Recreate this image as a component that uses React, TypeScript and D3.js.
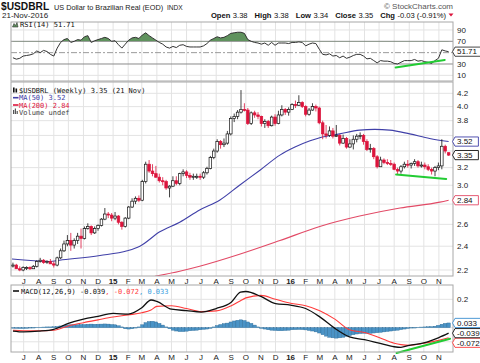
import React from "react";
import * as d3 from "d3";

const FONT = "'Liberation Sans', Arial, sans-serif";
const MONO = "'DejaVu Sans Mono', monospace";

const weekStart = new Date(2014, 5, 9);
const weekEnd = new Date(2016, 10, 21);

const opens = [
  2.24, 2.24, 2.21, 2.2, 2.22, 2.22, 2.21, 2.23, 2.27, 2.28, 2.26, 2.27, 2.25,
  2.24, 2.3, 2.36, 2.42, 2.45, 2.41, 2.45, 2.49, 2.47, 2.56, 2.58, 2.52, 2.56,
  2.59, 2.65, 2.7, 2.69, 2.66, 2.68, 2.62, 2.58, 2.66, 2.77, 2.83, 2.86, 2.84,
  3.04, 3.24, 3.16, 3.13, 3.09, 3.05, 3.04, 2.97, 2.99, 3.05, 3.02, 3.13, 3.15,
  3.11, 3.09, 3.1, 3.1, 3.09, 3.14, 3.19, 3.32, 3.4, 3.52, 3.48, 3.5, 3.62,
  3.83, 3.86, 3.92, 3.96, 3.95, 3.76, 3.91, 3.88, 3.86, 3.76, 3.79, 3.73, 3.85,
  3.76, 3.88, 3.96, 3.92, 3.96, 4.03, 4.02, 4.06, 4.0, 3.89, 3.95, 4.0, 3.98,
  3.77, 3.62, 3.6, 3.66, 3.59, 3.6, 3.5, 3.56, 3.45, 3.49, 3.55, 3.59, 3.6,
  3.52, 3.42, 3.43, 3.33, 3.21, 3.29, 3.26, 3.25, 3.24, 3.18, 3.16, 3.21, 3.24,
  3.23, 3.25, 3.27, 3.22, 3.23, 3.21, 3.18, 3.16, 3.2, 3.22, 3.46, 3.38,
];
const highs = [
  2.26, 2.25, 2.23, 2.23, 2.23, 2.23, 2.24, 2.28, 2.3, 2.29, 2.28, 2.29, 2.27,
  2.31, 2.38, 2.45, 2.5, 2.52, 2.47, 2.52, 2.56, 2.58, 2.61, 2.59, 2.58, 2.6,
  2.66, 2.76, 2.72, 2.71, 2.72, 2.69, 2.63, 2.67, 2.78, 2.86, 2.88, 2.89, 3.06,
  3.27, 3.29, 3.24, 3.22, 3.13, 3.09, 3.06, 3.0, 3.1, 3.1, 3.14, 3.18, 3.17,
  3.14, 3.13, 3.13, 3.13, 3.16, 3.21, 3.34, 3.43, 3.55, 3.54, 3.56, 3.66, 3.86,
  3.9, 3.95, 4.25, 4.05, 3.98, 3.93, 3.94, 3.92, 3.87, 3.82, 3.81, 3.87, 3.89,
  3.94, 4.02, 3.98, 3.99, 4.05, 4.09, 4.17, 4.08, 4.02, 3.98, 4.05, 4.03, 4.0,
  3.8, 3.74, 3.72, 3.7, 3.74, 3.62, 3.61, 3.58, 3.55, 3.6, 3.62, 3.64, 3.62,
  3.55, 3.49, 3.45, 3.35, 3.33, 3.31, 3.3, 3.29, 3.26, 3.2, 3.23, 3.27, 3.29,
  3.26, 3.3, 3.29, 3.27, 3.26, 3.24, 3.2, 3.22, 3.26, 3.55, 3.48, 3.38,
];
const lows = [
  2.22, 2.21, 2.19, 2.19, 2.2, 2.2, 2.21, 2.22, 2.26, 2.25, 2.25, 2.25, 2.22,
  2.23, 2.29, 2.35, 2.4, 2.36, 2.38, 2.42, 2.38, 2.46, 2.55, 2.5, 2.51, 2.54,
  2.58, 2.64, 2.66, 2.63, 2.64, 2.6, 2.55, 2.57, 2.65, 2.76, 2.8, 2.82, 2.83,
  3.02, 3.14, 3.1, 3.08, 3.03, 3.0, 2.95, 2.87, 2.98, 3.0, 3.0, 3.1, 3.08,
  3.06, 3.06, 3.07, 3.06, 3.07, 3.12, 3.18, 3.3, 3.38, 3.43, 3.45, 3.48, 3.6,
  3.78, 3.82, 3.9, 3.93, 3.74, 3.74, 3.84, 3.82, 3.72, 3.7, 3.7, 3.72, 3.73,
  3.75, 3.86, 3.88, 3.87, 3.95, 3.98, 4.01, 3.98, 3.86, 3.87, 3.94, 3.93, 3.75,
  3.55, 3.56, 3.58, 3.56, 3.58, 3.47, 3.49, 3.43, 3.44, 3.42, 3.51, 3.55, 3.48,
  3.4, 3.38, 3.3, 3.19, 3.21, 3.24, 3.23, 3.22, 3.17, 3.12, 3.13, 3.19, 3.2,
  3.19, 3.22, 3.2, 3.2, 3.18, 3.16, 3.12, 3.1, 3.17, 3.18, 3.37, 3.34,
];
const closes = [
  2.24, 2.21, 2.2, 2.22, 2.22, 2.21, 2.23, 2.27, 2.28, 2.26, 2.27, 2.25, 2.24,
  2.3, 2.36, 2.42, 2.45, 2.41, 2.45, 2.49, 2.47, 2.56, 2.58, 2.52, 2.56, 2.59,
  2.65, 2.7, 2.69, 2.66, 2.68, 2.62, 2.58, 2.66, 2.77, 2.83, 2.86, 2.84, 3.04,
  3.24, 3.16, 3.13, 3.09, 3.05, 3.04, 2.97, 2.99, 3.05, 3.02, 3.13, 3.15, 3.11,
  3.09, 3.1, 3.1, 3.09, 3.14, 3.19, 3.32, 3.4, 3.52, 3.48, 3.5, 3.62, 3.83,
  3.86, 3.92, 3.96, 3.95, 3.76, 3.91, 3.88, 3.86, 3.76, 3.79, 3.73, 3.85, 3.76,
  3.88, 3.96, 3.92, 3.96, 4.03, 4.02, 4.06, 4.0, 3.89, 3.95, 4.0, 3.98, 3.77,
  3.62, 3.6, 3.66, 3.59, 3.6, 3.5, 3.56, 3.45, 3.49, 3.55, 3.59, 3.6, 3.52,
  3.42, 3.43, 3.33, 3.21, 3.29, 3.26, 3.25, 3.24, 3.18, 3.16, 3.21, 3.24, 3.23,
  3.25, 3.27, 3.22, 3.23, 3.21, 3.18, 3.16, 3.2, 3.22, 3.46, 3.4, 3.35,
];

const ma50Dates = [
  "2014-06-07", "2014-08-24", "2014-09-13", "2014-12-05", "2015-01-30", "2015-02-25",
  "2015-04-07", "2015-05-18", "2015-06-28", "2015-08-08", "2015-09-18", "2015-10-30",
  "2015-12-10", "2016-01-10", "2016-02-10", "2016-03-01", "2016-04-11", "2016-05-22",
  "2016-06-22", "2016-07-23", "2016-09-02", "2016-10-13", "2016-11-21",
];
const ma50Values = [
  2.29, 2.27, 2.28, 2.32, 2.36, 2.4, 2.53, 2.62, 2.74, 2.84, 3.0, 3.17, 3.35, 3.45,
  3.53, 3.57, 3.62, 3.67, 3.68, 3.67, 3.62, 3.56, 3.52,
];
const ma200Dates = [
  "2015-03-28", "2015-05-18", "2015-06-28", "2015-09-18", "2015-12-10", "2016-03-01",
  "2016-05-22", "2016-08-13", "2016-11-03", "2016-11-21",
];
const ma200Values = [2.15, 2.19, 2.23, 2.33, 2.45, 2.58, 2.68, 2.76, 2.82, 2.84];

const rsiValues = [
  41, 38.5, 40, 44, 45, 46, 48, 53, 50, 54, 52, 47, 44,
  58, 68, 73, 75, 68, 70, 73, 72, 78, 80,
  68, 71, 73, 75, 77, 75, 70, 71, 64, 58,
  65, 72, 76, 77, 75, 81, 85, 80, 76, 72, 68, 65, 60,
  58, 61, 59, 63, 64, 61, 60, 60, 60, 60, 62, 66,
  72, 75, 78, 76, 77, 80, 84, 85, 86, 86, 84,
  73, 70, 68, 67, 65, 67, 63, 68, 63, 67, 67, 67, 66, 68, 68, 69, 68, 62, 65, 67, 66,
  56, 47, 46, 48, 44, 45, 41, 44, 40, 42, 45, 47, 47, 44, 39, 40,
  36, 32, 36, 35, 35, 34, 31, 30, 33, 36, 36, 36, 38, 35, 36, 34, 33, 31, 36, 40, 55, 53, 51.71,
];

const macdDates = [
  "2014-06-09", "2014-07-01", "2014-08-01", "2014-09-01", "2014-10-01", "2014-11-01",
  "2014-12-01", "2015-01-01", "2015-02-01", "2015-03-01", "2015-03-20", "2015-04-01",
  "2015-05-01", "2015-06-01", "2015-07-01", "2015-08-01", "2015-09-01", "2015-09-20",
  "2015-10-01", "2015-11-01", "2015-12-01", "2016-01-01", "2016-02-01", "2016-03-01",
  "2016-04-01", "2016-05-01", "2016-06-01", "2016-07-01", "2016-08-01", "2016-08-15",
  "2016-09-01", "2016-10-01", "2016-11-01", "2016-11-21",
];
const macdValues = [
  -0.024, -0.03, -0.025, -0.012, 0.03, 0.06, 0.08, 0.1, 0.095, 0.14, 0.195, 0.185,
  0.13, 0.12, 0.11, 0.135, 0.18, 0.25, 0.255, 0.22, 0.17, 0.159, 0.135, 0.076,
  -0.005, -0.065, -0.085, -0.11, -0.135, -0.139, -0.125, -0.108, -0.07, -0.039,
];
const signalValues = [
  -0.019, -0.022, -0.022, -0.018, 0.012, 0.035, 0.055, 0.075, 0.09, 0.105, 0.125, 0.15,
  0.155, 0.135, 0.113, 0.118, 0.155, 0.19, 0.21, 0.228, 0.2, 0.172, 0.155, 0.12,
  0.06, -0.015, -0.035, -0.07, -0.11, -0.12, -0.125, -0.11, -0.09, -0.072,
];
const histValues = [
  -0.004, -0.005, -0.006, -0.006, -0.005, -0.003, -0.001, 0.002,
  0.003, 0.004, 0.005, 0.005, 0.006,
  0.008, 0.012, 0.016, 0.019,
  0.02, 0.02, 0.021, 0.022, 0.022,
  0.024, 0.025, 0.024, 0.024,
  0.025, 0.026, 0.025, 0.022,
  0.02, 0.013, 0.005,
  -0.008, -0.01, -0.008, -0.003,
  0.005, 0.02, 0.035, 0.043, 0.045, 0.04, 0.03, 0.018, 0.005,
  -0.008, -0.018, -0.024, -0.028, -0.028, -0.025, -0.022, -0.02, -0.018, -0.015, -0.012, -0.01, -0.005,
  0.005, 0.015, 0.022, 0.028, 0.032, 0.04, 0.047, 0.052, 0.055, 0.05, 0.04, 0.03, 0.018, 0.005,
  -0.005, -0.01, -0.015, -0.018, -0.02, -0.022, -0.022, -0.02, -0.018, -0.015, -0.014, -0.013, -0.014, -0.016, -0.02, -0.024, -0.03,
  -0.038, -0.05, -0.06, -0.068, -0.072, -0.074, -0.072, -0.068, -0.062, -0.056, -0.05, -0.045, -0.042, -0.04,
  -0.04, -0.04, -0.038, -0.036, -0.033, -0.03, -0.027, -0.024, -0.021, -0.018, -0.014, -0.01, -0.006, -0.003,
  0.0, 0.002, 0.004, 0.005, 0.006, 0.007, 0.01, 0.016, 0.024, 0.03, 0.033,
];

const priceTrendDates = ["2016-08-05", "2016-11-16"];
const priceTrendValues = [3.12, 3.07];
const rsiTrendDates = ["2016-08-04", "2016-11-13"];
const rsiTrendValues = [24, 37];
const macdTrendDates = ["2016-08-06", "2016-11-24"];
const macdTrendValues = [-0.179, -0.078];

const monthStart = new Date(2014, 6, 1);
const monthEnd = new Date(2016, 11, 1);
const monthLabels = [
  "J", "A", "S", "O", "N", "D", "15", "F", "M", "A", "M", "J", "J", "A", "S", "O", "N", "D",
  "16", "F", "M", "A", "M", "J", "J", "A", "S", "O", "N",
];
const priceTicks = [2.2, 2.4, 2.6, 2.8, 3.0, 3.2, 3.4, 3.6, 3.8, 4.0, 4.2];
const rsiTicks = [10, 30, 50, 70, 90];
const macdTicks = [-0.1, 0.0, 0.1, 0.2];

const L = 11, R = 453;
const RSI_T = 22, RSI_B = 81;
const MAIN_T = 82, MAIN_B = 276;
const MACD_T = 285, MACD_B = 352;

const RED = "#dc143c";
const BLUE = "#4040a8";
const PINK = "#e24a66";
const GRID = "#e3e3e3";
const BORDER = "#a8a8a8";

function Tag({ y, text, color, textColor = "#111" }: { y: number; text: string; color: string; textColor?: string }) {
  const w = text.length * 4.6 + 5;
  const x0 = 455;
  const pts = `${x0 - 2.5},${y} ${x0},${y - 4.6} ${x0 + w},${y - 4.6} ${x0 + w},${y + 4.6} ${x0},${y + 4.6}`;
  return (
    <g>
      <polygon points={pts} fill="#fff" stroke={color} strokeWidth={0.9} />
      <text x={x0 + 2} y={y} dy="0.35em" fontSize={8} fontFamily={FONT} fill={textColor}>{text}</text>
    </g>
  );
}

const freeOf = (y: number, tags: number[]) => tags.every((t) => Math.abs(t - y) > 9.5);

export default function App() {
  const parse = d3.timeParse("%Y-%m-%d");
  const weeks = d3.timeMonday.range(weekStart, d3.timeDay.offset(weekEnd, 1));
  const n = Math.min(weeks.length, closes.length);
  const x = d3.scaleTime().domain([new Date(2014, 5, 5), new Date(2016, 10, 30)]).range([L, R]);
  const yP = d3.scaleLog().domain([2.2, 4.2]).range([270, 93.3]);
  const yR = d3.scaleLinear().domain([0, 100]).range([81, 24.3]);
  const yM = d3.scaleLinear().domain([-0.1, 0.2]).range([341.8, 299.3]);
  const months = d3.timeMonth.range(monthStart, monthEnd);

  const pairLine = (dates: string[], vals: number[], ys: (v: number) => number) =>
    d3.line<number>().x((_, i) => x(parse(dates[i]) as Date)).y((v) => ys(v)).curve(d3.curveMonotoneX)(vals) || "";

  const rsiPts: [number, number][] = weeks.slice(0, n).map((w, i) => [x(w), yR(rsiValues[i])]);
  const rsiLine = d3.line()(rsiPts) || "";
  const rsiArea = d3.area().x((d) => d[0]).y0(yR(70)).y1((d) => d[1])(rsiPts) || "";

  const straight = (dates: string[], vals: number[], ys: (v: number) => number) =>
    d3.line<number>().x((_, i) => x(parse(dates[i]) as Date)).y((v) => ys(v))(vals) || "";

  const rsiTagY = yR(51.71);
  const priceTagYs = [yP(3.52), yP(3.35), yP(2.84)];
  const macdTagA = yM(0.033);
  const macdTagB = yM(-0.039);
  const macdTagC = Math.max(yM(-0.072), macdTagB + 9.6);
  const macdTagYs = [macdTagA, macdTagB, macdTagC];

  return (
    <svg width={480} height={363} style={{ position: "absolute", left: 0, top: 0, background: "#fff" }} fontFamily={FONT}>
      <defs>
        <clipPath id="clipRsiHigh"><rect x={L} y={RSI_T} width={R - L} height={yR(70) - RSI_T} /></clipPath>
        <clipPath id="clipMain"><rect x={L} y={MAIN_T} width={R - L} height={MAIN_B - MAIN_T} /></clipPath>
        <clipPath id="clipMacd"><rect x={L} y={MACD_T} width={R - L} height={MACD_B - MACD_T + 2} /></clipPath>
      </defs>
      <rect x={0} y={0} width={480} height={363} fill="#fff" />

      {/* Header */}
      <text x={1} y={9.5} fontSize={10.2} fontWeight="bold" fill="#111">$USDBRL</text>
      <text x={54} y={9.5} fontSize={7.3} fill="#222">US Dollar to Brazilian Real (EOD)</text>
      <text x={167} y={9.5} fontSize={6.6} fill="#222">INDX</text>
      <text x={2} y={17.5} fontSize={8} fill="#222">21-Nov-2016</text>
      <text x={453} y={8.5} fontSize={8} fill="#555" textAnchor="end">© StockCharts.com</text>
      <text x={446} y={17.5} fontSize={7.6} fill="#111" textAnchor="end">
        <tspan fontWeight="bold">Open</tspan>
        <tspan dx={2.5}>3.38</tspan>
        <tspan dx={7} fontWeight="bold">High</tspan>
        <tspan dx={2.5}>3.38</tspan>
        <tspan dx={7} fontWeight="bold">Low</tspan>
        <tspan dx={2.5}>3.34</tspan>
        <tspan dx={7} fontWeight="bold">Close</tspan>
        <tspan dx={2.5}>3.35</tspan>
        <tspan dx={7} fontWeight="bold">Chg</tspan>
        <tspan dx={2.5}>-0.03 (-0.91%)</tspan>
      </text>
      <polygon points="448.5,13.5 453.5,13.5 451,16.5" fill={RED} />

      {/* Vertical grid in all panels */}
      {months.map((m, i) => (
        <g key={"vg" + i}>
          <line x1={x(m)} x2={x(m)} y1={RSI_T} y2={RSI_B} stroke={GRID} strokeWidth={1} />
          <line x1={x(m)} x2={x(m)} y1={MAIN_T} y2={MAIN_B} stroke={GRID} strokeWidth={1} />
          <line x1={x(m)} x2={x(m)} y1={MACD_T} y2={MACD_B} stroke={GRID} strokeWidth={1} />
        </g>
      ))}

      {/* RSI panel */}
      {rsiTicks.map((t) => (
        <line key={"rg" + t} x1={L} x2={R} y1={yR(t)} y2={yR(t)}
          stroke={t === 70 || t === 30 ? "#8a8a8a" : t === 50 ? "#9a9a9a" : GRID}
          strokeWidth={1} strokeDasharray={t === 50 ? "6,2,2,2" : undefined} />
      ))}
      <path d={rsiArea} fill="#5f925d" clipPath="url(#clipRsiHigh)" />
      <path d={rsiLine} fill="none" stroke="#333" strokeWidth={1} />
      <path d={straight(rsiTrendDates, rsiTrendValues, yR)} stroke="#22cc33" strokeWidth={2} fill="none" strokeLinecap="round" />
      <rect x={L} y={RSI_T} width={R - L} height={RSI_B - RSI_T} fill="none" stroke={BORDER} />
      {rsiTicks.filter((t) => freeOf(yR(t), [rsiTagY])).map((t) => (
        <text key={"rl" + t} x={457} y={yR(t)} dy="0.35em" fontSize={8} fill="#222">{t}</text>
      ))}
      <Tag y={rsiTagY} text="51.71" color="#333" />
      <g>
        <path d="M12.5,27 L14,23.5 L15.5,25.5 L17,22.5 L18,27 Z" fill="#5f925d" stroke="#333" strokeWidth={0.6} />
        <text x={20} y={27.3} fontSize={7} fontFamily={MONO} fill="#111">RSI(14) 51.71</text>
      </g>

      {/* Main panel */}
      {priceTicks.map((t) => (
        <line key={"pg" + t} x1={L} x2={R} y1={yP(t)} y2={yP(t)} stroke={GRID} strokeWidth={1} />
      ))}
      <g clipPath="url(#clipMain)">
        <path d={pairLine(ma200Dates, ma200Values, yP)} fill="none" stroke={PINK} strokeWidth={1.1} />
        <path d={pairLine(ma50Dates, ma50Values, yP)} fill="none" stroke={BLUE} strokeWidth={1.1} />
        {weeks.slice(0, n).map((w, i) => {
          const o = opens[i], h = highs[i], l = lows[i], c = closes[i];
          const prev = i > 0 ? closes[i - 1] : o;
          const col = c >= prev ? "#111" : RED;
          const hollow = c >= o;
          const cx = x(w);
          const top = yP(Math.max(o, c));
          const bh = Math.max(1, yP(Math.min(o, c)) - top);
          return (
            <g key={"c" + i}>
              <line x1={cx} x2={cx} y1={yP(h)} y2={yP(l)} stroke={col} strokeWidth={0.8} />
              <rect x={cx - 1.3} y={top} width={2.6} height={bh} fill={hollow ? "#fff" : col} stroke={col} strokeWidth={0.7} />
            </g>
          );
        })}
        <path d={straight(priceTrendDates, priceTrendValues, yP)} stroke="#22cc33" strokeWidth={2} fill="none" strokeLinecap="round" />
      </g>
      <rect x={L} y={MAIN_T} width={R - L} height={MAIN_B - MAIN_T} fill="none" stroke={BORDER} />
      {priceTicks.filter((t) => freeOf(yP(t), priceTagYs)).map((t) => (
        <text key={"pl" + t} x={457} y={yP(t)} dy="0.35em" fontSize={8} fill="#222">{t.toFixed(1)}</text>
      ))}
      <Tag y={priceTagYs[0]} text="3.52" color={BLUE} />
      <Tag y={priceTagYs[1]} text="3.35" color="#111" />
      <Tag y={priceTagYs[2]} text="2.84" color={PINK} />
      <g fontFamily={MONO} fontSize={7}>
        <rect x={13} y={87.5} width={1.6} height={5} fill="#111" />
        <rect x={15.5} y={88.5} width={1.6} height={4} fill="#111" />
        <text x={19} y={93.2} fill="#111">$USDBRL (Weekly) 3.35 (21 Nov)</text>
        <line x1={13} x2={18.5} y1={97.7} y2={97.7} stroke={BLUE} strokeWidth={1.6} />
        <text x={19} y={100.2} fill={BLUE}>MA(50) 3.52</text>
        <line x1={13} x2={18.5} y1={105} y2={105} stroke={RED} strokeWidth={1.6} />
        <text x={19} y={107.5} fill={RED}>MA(200) 2.84</text>
        <rect x={13} y={110} width={1.2} height={4} fill="#555" />
        <rect x={14.8} y={108.5} width={1.2} height={5.5} fill="#555" />
        <rect x={16.6} y={111} width={1.2} height={3} fill="#555" />
        <text x={19} y={114.8} fill="#444">Volume undef</text>
      </g>

      {/* Month labels */}
      {months.map((m, i) => (
        <g key={"ml" + i} fontSize={8} fill="#222" textAnchor="middle" fontWeight={monthLabels[i].length > 1 ? "bold" : "normal"}>
          <text x={x(m)} y={283.5}>{monthLabels[i]}</text>
          <text x={x(m)} y={360}>{monthLabels[i]}</text>
        </g>
      ))}

      {/* MACD panel */}
      {macdTicks.map((t) => (
        <line key={"mg" + t} x1={L} x2={R} y1={yM(t)} y2={yM(t)} stroke={GRID} strokeWidth={1} />
      ))}
      <g clipPath="url(#clipMacd)">
        {weeks.slice(0, n).map((w, i) => {
          const v = histValues[i];
          const y0 = yM(0), y1 = yM(v);
          return (
            <rect key={"h" + i} x={x(w) - 1.7} width={3.4} y={Math.min(y0, y1)} height={Math.max(0.4, Math.abs(y1 - y0))}
              fill="#4a93c6" stroke="#2c6b98" strokeWidth={0.4} />
          );
        })}
        <path d={pairLine(macdDates, signalValues, yM)} fill="none" stroke="#ff3b3b" strokeWidth={1.1} />
        <path d={pairLine(macdDates, macdValues, yM)} fill="none" stroke="#111" strokeWidth={1.3} />
        <path d={straight(macdTrendDates, macdTrendValues, yM)} stroke="#22cc33" strokeWidth={2} fill="none" strokeLinecap="round" />
      </g>
      <rect x={L} y={MACD_T} width={R - L} height={MACD_B - MACD_T} fill="none" stroke={BORDER} />
      {macdTicks.filter((t) => freeOf(yM(t), macdTagYs)).map((t) => (
        <text key={"mlab" + t} x={457} y={yM(t)} dy="0.35em" fontSize={8} fill="#222">{t.toFixed(1)}</text>
      ))}
      <Tag y={macdTagA} text="0.033" color="#3b8fd0" />
      <Tag y={macdTagC} text="-0.072" color="#ff3b3b" />
      <Tag y={macdTagB} text="-0.039" color="#111" />
      <g fontFamily={MONO} fontSize={7}>
        <line x1={13} x2={19} y1={291} y2={291} stroke="#111" strokeWidth={1.6} />
        <text x={21} y={293.5}>
          <tspan fill="#111">MACD(12,26,9) -0.039</tspan>
          <tspan fill="#ff3b3b">, -0.072</tspan>
          <tspan fill="#3aa0e0">, 0.033</tspan>
        </text>
      </g>
    </svg>
  );
}
